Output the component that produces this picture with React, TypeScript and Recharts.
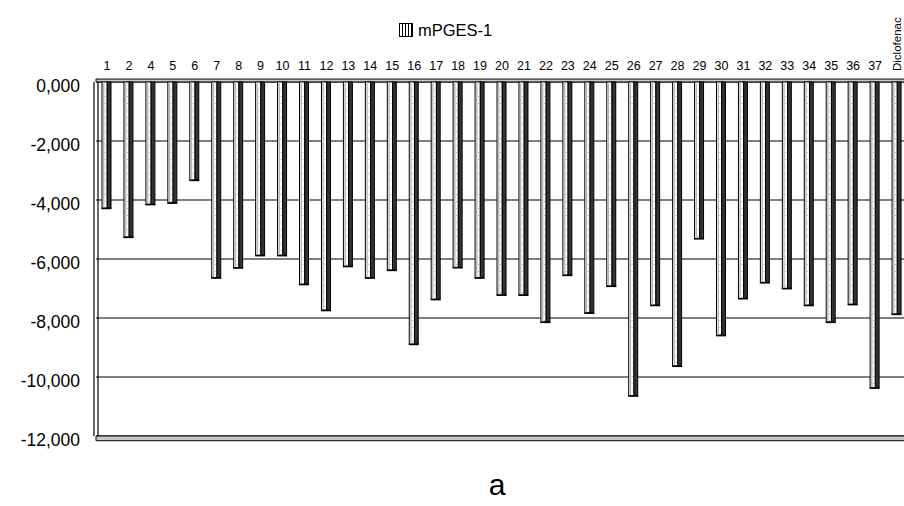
import React from 'react'
import { BarChart, Bar, XAxis, YAxis, CartesianGrid, ReferenceArea } from 'recharts'

// compound labels along the top axis (there is no compound 3)
const compounds = [
    '1', '2', '4', '5', '6', '7', '8', '9', '10', '11', '12', '13', '14', '15', '16', '17', '18', '19',
    '20', '21', '22', '23', '24', '25', '26', '27', '28', '29', '30', '31', '32', '33', '34', '35', '36', '37',
    'Diclofenac',
]

// mPGES-1 scores
const mpgesScores = [
    -4.27, -5.25, -4.14, -4.09, -3.32, -6.63, -6.29, -5.87, -5.87, -6.85, -7.73, -6.24, -6.63, -6.37, -8.88,
    -7.36, -6.28, -6.63, -7.21, -7.21, -8.13, -6.54, -7.82, -6.91, -10.63, -7.56, -9.62, -5.30, -8.58, -7.33,
    -6.79, -6.99, -7.56, -8.13, -7.53, -10.36, -7.86,
]

const yTicks = [0, -2, -4, -6, -8, -10, -12]

const seriesName = 'mPGES-1'
const panelLabel = 'a'

const FONT = '"Liberation Sans", Arial, sans-serif'

const chartData = compounds.map((name, i) => ({ name, value: mpgesScores[i] }))

const formatTick = (v: number) => v.toFixed(3).replace('.', ',')

// 3D-ish column: white front face with a grey strip, dark side face
const ColumnShape = (props: any) => {
    const { x, y, width, height } = props
    const top = Math.min(y, y + height)
    const h = Math.abs(height)
    const front = width * 0.58
    return (
        <g>
            <rect x={x} y={top} width={front} height={h} fill="#fff" stroke="#000" strokeWidth={1} />
            <rect x={x + 1} y={top} width={1.4} height={h} fill="#b8b8b8" />
            <line x1={x + front * 0.65} y1={top} x2={x + front * 0.65} y2={top + h} stroke="#777" strokeWidth={0.6} strokeDasharray="1 6" />
            <rect x={x + front} y={top} width={width - front} height={h} fill="#333" stroke="#000" strokeWidth={1} />
            <line x1={x - 0.5} y1={top + h + 0.5} x2={x + width + 0.5} y2={top + h + 0.5} stroke="#000" strokeWidth={1.5} />
        </g>
    )
}

const CategoryTick = (props: any) => {
    const { x, y, payload } = props
    const label = String(payload.value)
    if (label.length > 3) {
        // long name stands upright, as in the original
        return (
            <text x={x + 4} y={y - 11} transform={`rotate(-90 ${x + 4} ${y - 11})`} fontFamily={FONT} fontSize={11.5} fill="#000">
                {label}
            </text>
        )
    }
    return (
        <text x={x} y={y - 12} textAnchor="middle" fontFamily={FONT} fontSize={12.5} fill="#000">
            {label}
        </text>
    )
}

const ValueTick = (props: any) => {
    const { x, y, payload } = props
    return (
        <text x={x} y={y + 4} textAnchor="end" dominantBaseline="central" fontFamily={FONT} fontSize={17.5} fill="#000">
            {formatTick(payload.value)}
        </text>
    )
}

export default function App() {
    return (
        <div style={{ position: 'absolute', left: 0, top: 0, width: 904, height: 506, overflow: 'hidden', background: '#fff' }}>
            <svg width={0} height={0} style={{ position: 'absolute' }}>
                <defs>
                    <pattern id="legendStripes" width="3" height="4" patternUnits="userSpaceOnUse">
                        <rect width="3" height="4" fill="#fff" />
                        <rect width="1" height="4" fill="#000" />
                    </pattern>
                </defs>
            </svg>
            <div style={{ position: 'absolute', left: 399, top: 20, fontFamily: FONT, fontSize: 16.5, lineHeight: '20px', whiteSpace: 'nowrap' }}>
                <span style={{ display: 'inline-flex', alignItems: 'center', gap: 5 }}>
                    <svg width={14} height={14}>
                        <rect x={0.5} y={0.5} width={13} height={13} fill="url(#legendStripes)" stroke="#000" />
                    </svg>
                    {seriesName}
                </span>
            </div>
            <BarChart
                width={908}
                height={506}
                data={chartData}
                margin={{ top: 52, right: 0, left: 10, bottom: 70 }}
                barSize={9}
            >
                <CartesianGrid
                    stroke="#000"
                    strokeWidth={1.2}
                    verticalCoordinatesGenerator={({ offset }: any) => [offset.left - 2, offset.left + 2]}
                />
                <ReferenceArea y1={0} y2={0.1} ifOverflow="visible" fill="#c8c8c8" fillOpacity={1} stroke="#000" strokeWidth={1} />
                <ReferenceArea y1={-12.16} y2={-12} ifOverflow="visible" fill="#c8c8c8" fillOpacity={1} stroke="#000" strokeWidth={1} />
                <XAxis
                    dataKey="name"
                    orientation="top"
                    height={30}
                    interval={0}
                    axisLine={false}
                    tickLine={false}
                    tickSize={0}
                    tickMargin={0}
                    tick={<CategoryTick />}
                />
                <YAxis
                    domain={[-12, 0]}
                    ticks={yTicks}
                    width={86}
                    axisLine={false}
                    tickLine={false}
                    tickSize={0}
                    tickMargin={16}
                    tick={<ValueTick />}
                />
                <Bar dataKey="value" name={seriesName} shape={<ColumnShape />} isAnimationActive={false} />
            </BarChart>
            <div style={{ position: 'absolute', left: 497, top: 468, transform: 'translateX(-50%)', fontFamily: FONT, fontSize: 30 }}>
                {panelLabel}
            </div>
        </div>
    )
}
